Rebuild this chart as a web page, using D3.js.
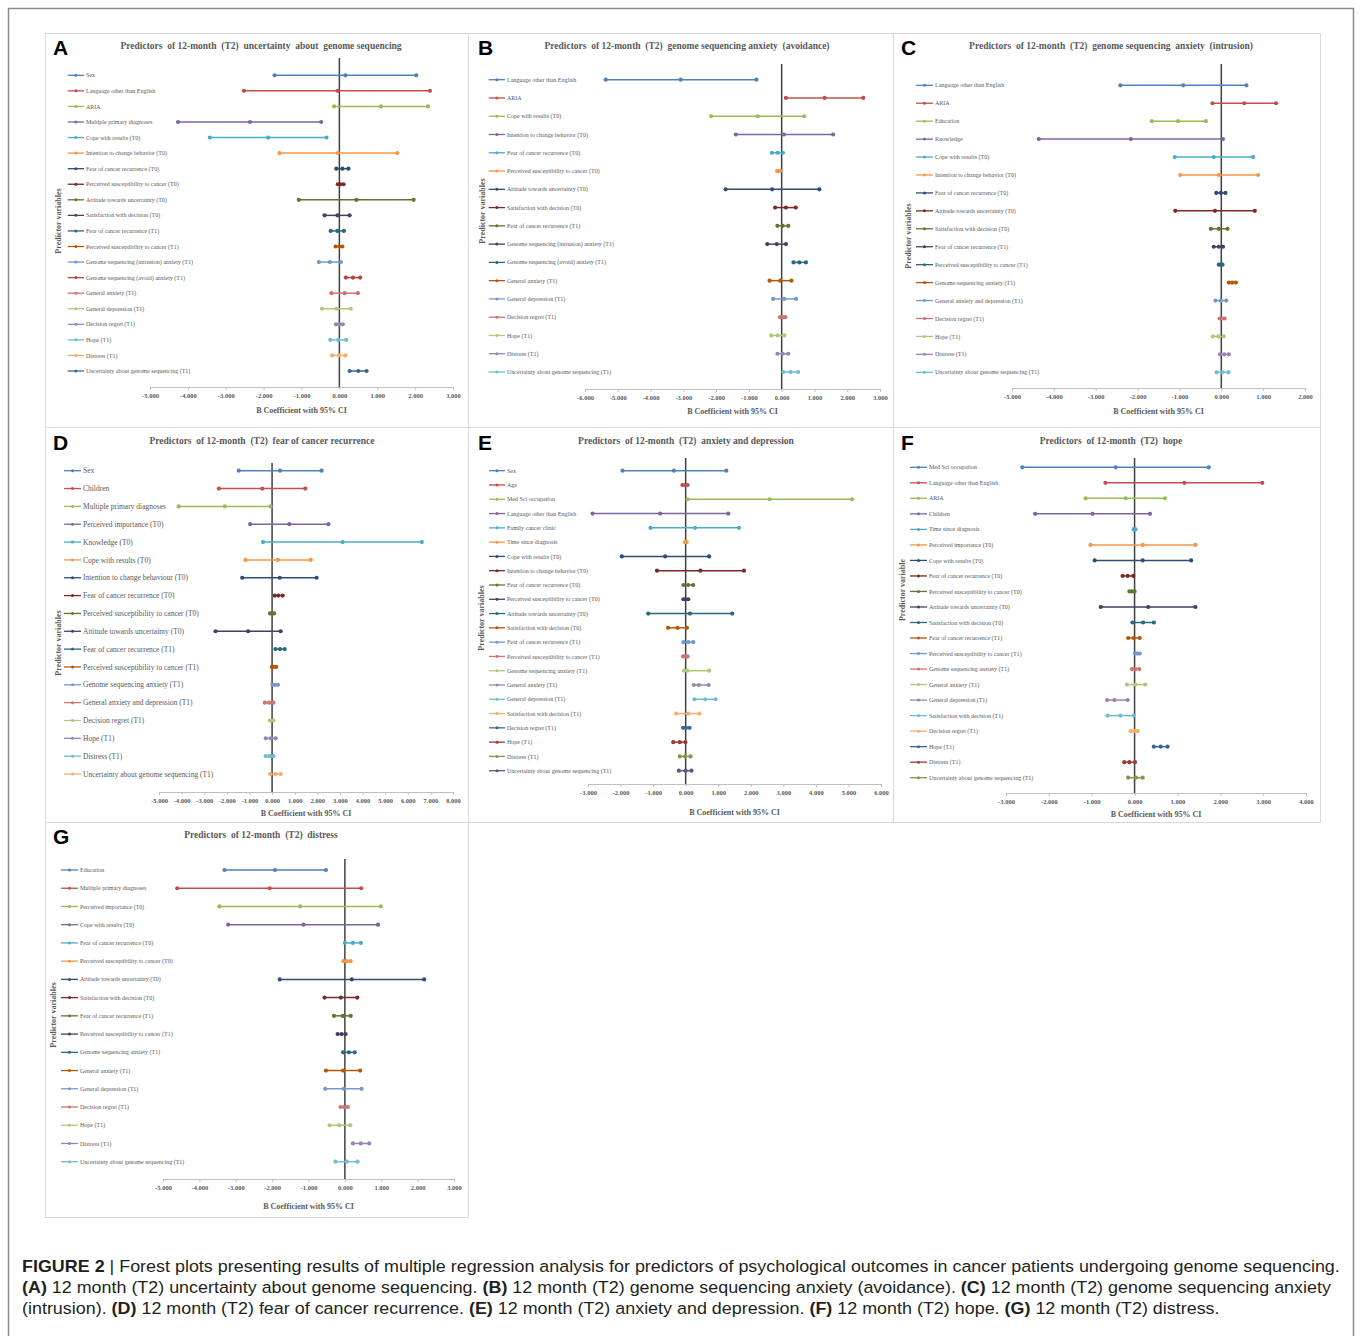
<!DOCTYPE html>
<html><head><meta charset="utf-8">
<script src="https://cdn.jsdelivr.net/npm/d3@7"></script>
<style>body{margin:0;background:#fff}svg{display:block}</style>
</head><body>
<script>
// ---------------- DATA ----------------
const labelsA = ["Sex","Language other than English","ARIA","Multiple primary diagnoses","Cope with results (T0)","Intention to change behavior (T0)","Fear of cancer recurrence (T0)","Perceived susceptibility to cancer (T0)","Attitude towards uncertainty (T0)","Satisfaction with decision (T0)","Fear of cancer recurrence (T1)","Perceived susceptibility to cancer (T1)","Genome sequencing (intrusion) anxiety (T1)","Genome sequencing (avoid) anxiety (T1)","General anxiety (T1)","General depression (T1)","Decision regret (T1)","Hope (T1)","Distress (T1)","Uncertainty about genome sequencing (T1)"];
const lowA = [-1.71,-2.52,-0.14,-4.26,-3.42,-1.58,-0.08,-0.04,-1.07,-0.39,-0.23,-0.10,-0.54,0.17,-0.21,-0.46,-0.09,-0.24,-0.19,0.27];
const bA   = [0.16,-0.05,1.10,-2.36,-1.88,-0.04,0.08,0.03,0.45,-0.05,-0.05,0.00,-0.25,0.36,0.14,-0.08,0.00,-0.03,-0.01,0.50];
const upA  = [2.03,2.39,2.34,-0.48,-0.34,1.53,0.24,0.11,1.96,0.27,0.12,0.08,0.04,0.55,0.49,0.30,0.09,0.18,0.16,0.72];
const ticksA = [-5,-4,-3,-2,-1,0,1,2,3];

const labelsB = ["Language other than English","ARIA","Cope with results (T0)","Intention to change behavior (T0)","Fear of cancer recurrence (T0)","Perceived susceptibility to cancer (T0)","Attitude towards uncertainty (T0)","Satisfaction with decision (T0)","Fear of cancer recurrence (T1)","Genome sequencing (intrusion) anxiety (T1)","Genome sequencing (avoid) anxiety (T1)","General anxiety (T1)","General depression (T1)","Decision regret (T1)","Hope (T1)","Distress (T1)","Uncertainty about genome sequencing (T1)"];
const lowB = [-5.37,0.13,-2.15,-1.40,-0.30,-0.14,-1.71,-0.20,-0.13,-0.44,0.36,-0.37,-0.26,-0.05,-0.32,-0.13,0.05];
const bB   = [-3.08,1.31,-0.73,0.07,-0.12,-0.09,-0.29,0.13,0.03,-0.15,0.54,-0.04,0.08,0.03,-0.12,0.03,0.27];
const upB  = [-0.77,2.49,0.69,1.57,0.04,-0.04,1.15,0.43,0.20,0.13,0.74,0.30,0.44,0.11,0.08,0.20,0.50];
const ticksB = [-6,-5,-4,-3,-2,-1,0,1,2,3];

const labelsC = ["Language other than English","ARIA","Education","Knowledge","Cope with results (T0)","Intention to change behavior (T0)","Fear of cancer recurrence (T0)","Attitude towards uncertainty (T0)","Satisfaction with decision (T0)","Fear of cancer recurrence (T1)","Perceived susceptibility to cancer (T1)","Genome sequencing anxiety (T1)","General anxiety and depression (T1)","Decision regret (T1)","Hope (T1)","Distress (T1)","Uncertainty about genome sequencing (T1)"];
const lowC = [-2.41,-0.21,-1.66,-4.36,-1.11,-0.98,-0.12,-1.10,-0.25,-0.18,-0.06,0.18,-0.14,-0.04,-0.20,-0.03,-0.11];
const bC   = [-0.91,0.55,-1.03,-2.16,-0.18,-0.06,-0.01,-0.15,-0.06,-0.06,-0.02,0.26,-0.01,0.02,-0.07,0.07,0.02];
const upC  = [0.60,1.31,-0.37,0.04,0.76,0.88,0.10,0.80,0.15,0.04,0.03,0.35,0.12,0.08,0.06,0.18,0.17];
const ticksC = [-5,-4,-3,-2,-1,0,1,2];

const labelsD = ["Sex","Children","Multiple primary diagnoses","Perceived importance (T0)","Knowledge (T0)","Cope with results (T0)","Intention to change behaviour (T0)","Fear of cancer recurrence (T0)","Perceived susceptibility to cancer (T0)","Attitude towards uncertainty (T0)","Fear of cancer recurrence (T1)","Perceived susceptibility to cancer (T1)","Genome sequencing anxiety (T1)","General anxiety and depression  (T1)","Decision regret (T1)","Hope (T1)","Distress (T1)","Uncertainty about genome sequencing (T1)"];
const lowD = [-1.47,-2.35,-4.13,-0.97,-0.40,-1.18,-1.32,0.12,-0.09,-2.50,0.15,-0.01,0.01,-0.32,-0.10,-0.28,-0.28,-0.09];
const bD   = [0.35,-0.43,-2.09,0.76,3.12,0.26,0.34,0.28,0.00,-1.06,0.35,0.07,0.13,-0.13,-0.03,-0.06,-0.12,0.15];
const upD  = [2.19,1.47,-0.07,2.49,6.62,1.71,1.97,0.47,0.09,0.38,0.56,0.18,0.26,0.06,0.06,0.16,0.06,0.38];
const ticksD = [-5,-4,-3,-2,-1,0,1,2,3,4,5,6,7,8];

const labelsE = ["Sex","Age","Med Sci occupation","Language other than English","Family cancer clinic","Time since diagnosis","Cope with results (T0)","Intention to change behavior (T0)","Fear of cancer recurrence (T0)","Perceived susceptibility to cancer (T0)","Attitude towards uncertainty (T0)","Satisfaction with decision (T0)","Fear of cancer recurrence (T1)","Perceived susceptibility to cancer (T1)","Genome sequencing anxiety (T1)","General anxiety (T1)","General depression (T1)","Satisfaction with decision (T1)","Decision regret (T1)","Hope (T1)","Distress (T1)","Uncertainty about genome sequencing (T1)"];
const lowE = [-1.94,-0.10,0.06,-2.86,-1.08,-0.02,-1.96,-0.88,-0.07,-0.07,-1.15,-0.54,-0.07,-0.08,-0.05,0.25,0.27,-0.29,-0.08,-0.38,-0.18,-0.21];
const bE   = [-0.36,-0.02,2.58,-0.78,0.29,0.00,-0.63,0.45,0.08,0.00,0.13,-0.25,0.08,-0.01,0.05,0.40,0.60,0.08,0.01,-0.18,-0.02,0.00];
const upE  = [1.25,0.06,5.11,1.31,1.64,0.03,0.72,1.79,0.23,0.08,1.43,0.04,0.23,0.06,0.72,0.71,0.92,0.42,0.12,-0.01,0.15,0.18];
const ticksE = [-3,-2,-1,0,1,2,3,4,5,6];

const labelsF = ["Med Sci occupation","Language other than English","ARIA","Children","Time since diagnosis","Perceived importance (T0)","Cope with results (T0)","Fear of cancer recurrence (T0)","Perceived susceptibility to cancer (T0)","Attitude towards uncertainty (T0)","Satisfaction with decision (T0)","Fear of cancer recurrence (T1)","Perceived susceptibility to cancer (T1)","Genome sequencing anxiety (T1)","General anxiety (T1)","General depression (T1)","Satisfaction with decision (T1)","Decision regret (T1)","Hope (T1)","Distress (T1)","Uncertainty about genome sequencing (T1)"];
const lowF = [-2.62,-0.68,-1.14,-2.32,-0.02,-1.03,-0.93,-0.28,-0.12,-0.79,-0.05,-0.15,0.01,-0.06,-0.18,-0.64,-0.63,-0.09,0.45,-0.24,-0.15];
const bF   = [-0.44,1.16,-0.21,-0.98,-0.01,0.19,0.19,-0.16,-0.06,0.32,0.20,-0.02,0.06,0.02,0.02,-0.47,-0.33,-0.01,0.61,-0.12,0.03];
const upF  = [1.73,2.98,0.71,0.36,0.02,1.42,1.32,-0.03,0.00,1.42,0.45,0.12,0.12,0.11,0.25,-0.16,-0.02,0.07,0.77,0.01,0.19];
const ticksF = [-3,-2,-1,0,1,2,3,4];

const labelsG = ["Education","Multiple primary diagnoses","Perceived importance (T0)","Cope with results (T0)","Fear of cancer recurrence (T0)","Perceived susceptibility to cancer (T0)","Attitude towards uncertainty (T0)","Satisfaction with decision (T0)","Fear of cancer recurrence (T1)","Perceived susceptibility to cancer (T1)","Genome sequencing anxiety (T1)","General anxiety (T1)","General depression (T1)","Decision regret (T1)","Hope (T1)","Distress (T1)","Uncertainty about genome sequencing (T1)"];
const lowG = [-3.31,-4.61,-3.45,-3.21,0.00,-0.04,-1.79,-0.56,-0.30,-0.20,-0.05,-0.52,-0.54,-0.12,-0.42,0.22,-0.26];
const bG   = [-1.92,-2.07,-1.23,-1.14,0.22,0.06,0.19,-0.11,-0.06,-0.09,0.11,-0.05,-0.03,-0.02,-0.15,0.44,0.05];
const upG  = [-0.52,0.45,0.99,0.91,0.44,0.16,2.18,0.34,0.16,0.02,0.27,0.42,0.46,0.08,0.15,0.67,0.35];
const ticksG = [-5,-4,-3,-2,-1,0,1,2,3];

const titles = {
  A:"Predictors  of 12-month  (T2)  uncertainty  about  genome sequencing",
  B:"Predictors  of 12-month  (T2)  genome sequencing anxiety  (avoidance)",
  C:"Predictors  of 12-month  (T2)  genome sequencing  anxiety  (intrusion)",
  D:"Predictors  of 12-month  (T2)  fear of cancer recurrence",
  E:"Predictors  of 12-month  (T2)  anxiety and depression",
  F:"Predictors  of 12-month  (T2)  hope",
  G:"Predictors  of 12-month  (T2)  distress"
};

// ---------------- STYLE ----------------
const palette = ["#4F81BD","#C0504D","#9BBB59","#8064A2","#4BACC6","#F79646",
  "#2C4D75","#772C2A","#5F7530","#4D3B62","#276A7C","#B65708",
  "#729ACA","#CD7371","#AFC97A","#9983B5","#6FBDD1","#F9AB6B",
  "#3A6595","#9E3A38","#7E9A40","#664F83","#358DA5","#DF7A1C","#B9413D"];
const orderA = [0,1,2,3,4,5,6,7,8,9,10,11,12,24,13,14,15,16,17,18];

const W = 1360, H = 1336;
const svg = d3.select("body").append("svg").attr("width",W).attr("height",H)
  .attr("viewBox",`0 0 ${W} ${H}`);
svg.append("rect").attr("width",W).attr("height",H).attr("fill","#fff");
svg.append("rect").attr("x",8.5).attr("y",8.5).attr("width",1345).attr("height",1345)
  .attr("fill","none").attr("stroke","#8a8a8a").attr("stroke-width",1.5);

const SERIF = "'Liberation Serif','Times New Roman',serif";
const fmt = v => d3.format(".3f")(v).replace("\u2212","-");

const panels = [
  {k:"A",labels:labelsA,low:lowA,b:bA,up:upA,ticks:ticksA,frame:[45,33,468,427],
   xr:[150,453],rows:[75.3,371],axisY:387,zeroTop:58,leg:[67.7,84],labelX:86,
   yt:[58,221],ytTxt:"Predictor variables",titleX:261,titleY:49,axTitleY:413,letter:[53,55],lf:6,order:orderA},
  {k:"B",labels:labelsB,low:lowB,b:bB,up:upB,ticks:ticksB,frame:[468,33,893,427],
   xr:[585,880],rows:[79.7,372],axisY:389,zeroTop:64,leg:[488.7,505],labelX:507,
   yt:[482,211],ytTxt:"Predictor variables",titleX:687,titleY:49,axTitleY:414,letter:[478,55],lf:6},
  {k:"C",labels:labelsC,low:lowC,b:bC,up:upC,ticks:ticksC,frame:[893,33,1320,427],
   xr:[1012,1305],rows:[85.3,372.3],axisY:388,zeroTop:64,leg:[916,933],labelX:935,
   yt:[908,236],ytTxt:"Predictor variables",titleX:1111,titleY:49,axTitleY:414,letter:[901,55],lf:6},
  {k:"D",labels:labelsD,low:lowD,b:bD,up:upD,ticks:ticksD,frame:[45,427,468,822],
   xr:[159,453],rows:[470.7,774],axisY:792,zeroTop:463,leg:[64,81],labelX:83,
   yt:[58,643],ytTxt:"Predictor variables",titleX:262,titleY:444,axTitleY:816,letter:[53,450],lf:7.5},
  {k:"E",labels:labelsE,low:lowE,b:bE,up:upE,ticks:ticksE,frame:[468,427,893,822],
   xr:[588,881],rows:[470.7,770.7],axisY:784,zeroTop:458,leg:[489,505],labelX:507,
   yt:[481,618],ytTxt:"Predictor variables",titleX:686,titleY:444,axTitleY:815,letter:[478,450],lf:6},
  {k:"F",labels:labelsF,low:lowF,b:bF,up:upF,ticks:ticksF,frame:[893,427,1320,822],
   xr:[1006,1306],rows:[467.3,777.7],axisY:793,zeroTop:458,leg:[910,927],labelX:929,
   yt:[902,590],ytTxt:"Predictor variable",titleX:1111,titleY:444,axTitleY:817,letter:[901,450],lf:6},
  {k:"G",labels:labelsG,low:lowG,b:bG,up:upG,ticks:ticksG,frame:[45,822,468,1217],
   xr:[163,454],rows:[870,1161.7],axisY:1179,zeroTop:859,leg:[61,78],labelX:80,
   yt:[53,1015],ytTxt:"Predictor variables",titleX:261,titleY:838,axTitleY:1209,letter:[53,844],lf:6}
];

panels.forEach(p => {
  const g = svg.append("g");
  const [fx0,fy0,fx1,fy1] = p.frame;
  g.append("rect").attr("x",fx0+0.5).attr("y",fy0+0.5).attr("width",fx1-fx0).attr("height",fy1-fy0)
    .attr("fill","#fff").attr("stroke","#d9d9d9").attr("stroke-width",1);

  const x = d3.scaleLinear().domain([p.ticks[0], p.ticks[p.ticks.length-1]]).range(p.xr);
  const idx = d3.range(p.labels.length);
  const y = d3.scalePoint().domain(idx).range(p.rows);
  const col = i => palette[p.order ? p.order[i] : i];

  // axis
  const ax = g.append("g").attr("transform",`translate(0,${p.axisY})`)
    .call(d3.axisBottom(x).tickValues(p.ticks).tickFormat(fmt).tickSize(3).tickSizeOuter(0).tickPadding(3.5));
  ax.select(".domain").attr("stroke","#bfbfbf");
  ax.selectAll(".tick line").attr("stroke","#bfbfbf");
  ax.selectAll(".tick text").attr("fill","#595959").attr("font-family",SERIF)
    .attr("font-size",6.5).attr("font-weight","bold");

  // zero line
  g.append("line").attr("x1",x(0)).attr("x2",x(0)).attr("y1",p.zeroTop).attr("y2",p.axisY)
    .attr("stroke","#404040").attr("stroke-width",1.5);

  // rows
  const row = g.selectAll("g.row").data(idx).join("g").attr("class","row");
  row.append("line").attr("x1",i=>x(p.low[i])).attr("x2",i=>x(p.up[i]))
    .attr("y1",i=>y(i)).attr("y2",i=>y(i)).attr("stroke",col).attr("stroke-width",1.5);
  ["low","b","up"].forEach(key => {
    row.append("circle").attr("cx",i=>x(p[key][i])).attr("cy",i=>y(i)).attr("r",2.1).attr("fill",col);
  });
  // legend
  row.append("line").attr("x1",p.leg[0]).attr("x2",p.leg[1]).attr("y1",i=>y(i)).attr("y2",i=>y(i))
    .attr("stroke",col).attr("stroke-width",1.3);
  row.append("circle").attr("cx",(p.leg[0]+p.leg[1])/2).attr("cy",i=>y(i)).attr("r",1.5).attr("fill",col);
  row.append("text").attr("x",p.labelX).attr("y",i=>y(i)).attr("dy","0.35em")
    .attr("font-family",SERIF).attr("font-size",p.lf).attr("fill","#595959")
    .text(i=>p.labels[i]);

  // titles
  g.append("text").attr("x",p.titleX).attr("y",p.titleY).attr("text-anchor","middle")
    .attr("font-family",SERIF).attr("font-weight","bold").attr("font-size",9.5)
    .attr("fill","#595959").style("white-space","pre").text(titles[p.k]);
  g.append("text").attr("x",(p.xr[0]+p.xr[1])/2).attr("y",p.axTitleY).attr("text-anchor","middle")
    .attr("font-family",SERIF).attr("font-weight","bold").attr("font-size",8)
    .attr("fill","#595959").text("B Coefficient  with  95% CI");
  g.append("text").attr("transform",`translate(${p.yt[0]+3},${p.yt[1]}) rotate(-90)`)
    .attr("text-anchor","middle").attr("font-family",SERIF).attr("font-weight","bold")
    .attr("font-size",8).attr("fill","#595959").text(p.ytTxt);
  g.append("text").attr("x",p.letter[0]).attr("y",p.letter[1])
    .attr("font-family","'Liberation Sans',Arial,sans-serif").attr("font-weight","bold")
    .attr("font-size",21).attr("fill","#000").text(p.k);
});

// ---------------- CAPTION ----------------
const captionLines = [
  [[1,"FIGURE 2"],[0," | Forest plots presenting results of multiple regression analysis for predictors of psychological outcomes in cancer patients undergoing genome sequencing."]],
  [[1,"(A)"],[0," 12 month (T2) uncertainty about genome sequencing. "],[1,"(B)"],[0," 12 month (T2) genome sequencing anxiety (avoidance). "],[1,"(C)"],[0," 12 month (T2) genome sequencing anxiety"]],
  [[0,"(intrusion). "],[1,"(D)"],[0," 12 month (T2) fear of cancer recurrence. "],[1,"(E)"],[0," 12 month (T2) anxiety and depression. "],[1,"(F)"],[0," 12 month (T2) hope. "],[1,"(G)"],[0," 12 month (T2) distress."]]
];
const capY = [1272, 1293, 1314];
const capW = [1318, 1310, null];
let s0 = 1;
captionLines.forEach((ln,li) => {
  const t = svg.append("text").attr("x",0).attr("y",0)
    .attr("font-family","'Liberation Sans',Arial,sans-serif").attr("font-size",16.5)
    .attr("fill","#231f20").style("white-space","pre");
  ln.forEach(([b,s]) => t.append("tspan").attr("font-weight",b?"bold":"normal").text(s));
  const w = t.node().getComputedTextLength();
  let s = capW[li] ? capW[li]/w : s0;
  if (li===0) s0 = s;
  t.attr("transform",`translate(22,${capY[li]}) scale(${s},1)`);
});
</script>
</body></html>
